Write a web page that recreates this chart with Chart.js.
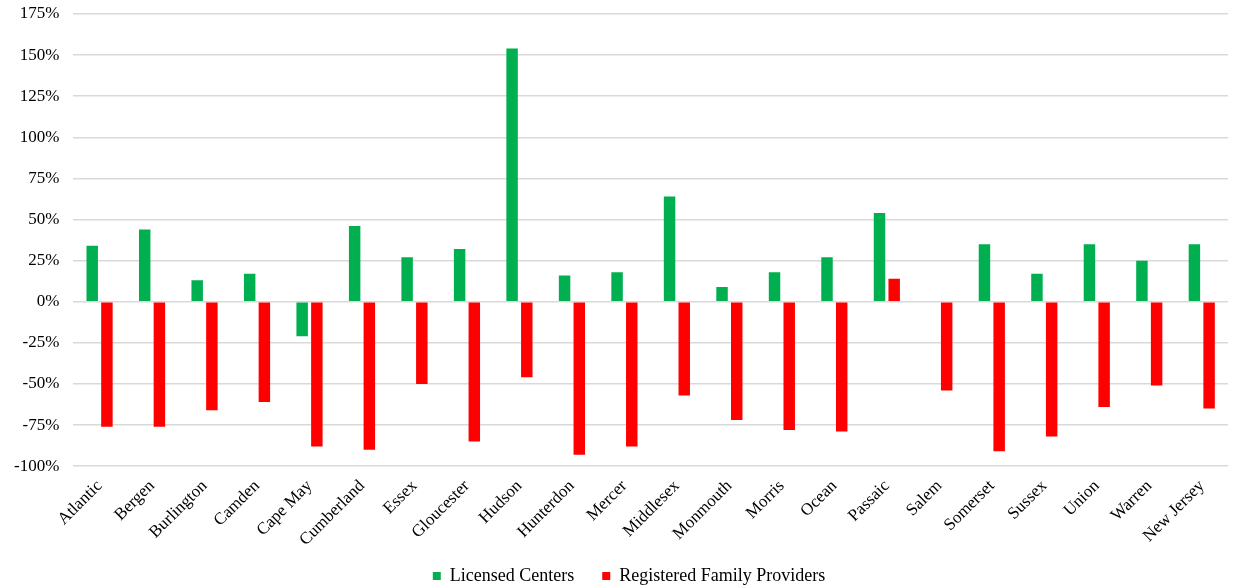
<!DOCTYPE html>
<html>
<head>
<meta charset="utf-8">
<script src="https://cdn.jsdelivr.net/npm/chart.js@4"></script>
<style>
  html, body { margin: 0; padding: 0; background: #fff; }
  #wrap { width: 1239px; height: 588px; }
</style>
</head>
<body>
<div id="wrap"><canvas id="chart" width="1239" height="588"></canvas></div>
<script>
const counties = ['Atlantic', 'Bergen', 'Burlington', 'Camden', 'Cape May', 'Cumberland', 'Essex',
    'Gloucester', 'Hudson', 'Hunterdon', 'Mercer', 'Middlesex', 'Monmouth', 'Morris', 'Ocean',
    'Passaic', 'Salem', 'Somerset', 'Sussex', 'Union', 'Warren', 'New Jersey'];
// percent change
const licensedCenters = [34, 44, 13, 17, -21, 46, 27, 32, 154, 16, 18, 64, 9, 18, 27, 54, 0, 35, 17, 35, 25, 35];
const familyProviders = [-76, -76, -66, -61, -88, -90, -50, -85, -46, -93, -88, -57, -72, -78, -79, 14, -54, -91, -82, -64, -51, -65];
const yTicks = [-100, -75, -50, -25, 0, 25, 50, 75, 100, 125, 150, 175];

const serif = "'Liberation Serif', 'Times New Roman', serif";

const whiteBg = {
    id: 'whiteBg',
    beforeDraw(chart) {
        const ctx = chart.ctx;
        ctx.save();
        ctx.fillStyle = '#fff';
        ctx.fillRect(0, 0, chart.width, chart.height);
        ctx.restore();
    }
};

// the legend sits a bit right of the canvas centre in the original
const nudgeLegend = {
    id: 'nudgeLegend',
    afterLayout(chart) {
        chart.legend.left += 15;
        chart.legend.right += 15;
    }
};

const ctx = document.getElementById('chart').getContext('2d');
new Chart(ctx, {
    type: 'bar',
    data: {
        labels: counties,
        datasets: [
            {
                label: 'Licensed Centers',
                data: licensedCenters,
                backgroundColor: '#00b050',
                categoryPercentage: 0.56,
                barPercentage: 0.78
            },
            {
                label: 'Registered Family Providers',
                data: familyProviders,
                backgroundColor: '#ff0000',
                categoryPercentage: 0.56,
                barPercentage: 0.78
            }
        ]
    },
    options: {
        responsive: false,
        animation: false,
        devicePixelRatio: 1,
        layout: { autoPadding: false, padding: { top: 14, right: 11, left: 0, bottom: -7 } },
        plugins: {
            legend: {
                position: 'bottom',
                labels: {
                    color: '#000',
                    font: { family: serif, size: 18 },
                    boxWidth: 8,
                    boxHeight: 8,
                    padding: 28
                }
            },
            tooltip: { enabled: false }
        },
        scales: {
            x: {
                grid: { display: false },
                border: { display: false },
                // rotated labels leave room below; pull the plot down towards the legend
                afterFit(axis) {
                    axis.height -= 13;
                    axis._computeLabelArea = () => undefined;
                },
                ticks: {
                    color: '#000',
                    font: { family: serif, size: 17 },
                    minRotation: 45,
                    maxRotation: 45,
                    autoSkip: false,
                    padding: 2
                }
            },
            y: {
                min: -100,
                max: 175,
                afterBuildTicks(axis) {
                    axis.ticks = yTicks.map(v => ({ value: v }));
                },
                // tick padding would otherwise push the top gridline down
                afterFit(axis) {
                    axis.paddingTop = 0;
                    axis.paddingBottom = 0;
                },
                grid: { color: '#d9d9d9', lineWidth: 1.5, drawTicks: false },
                border: { display: false },
                ticks: {
                    color: '#000',
                    font: { family: serif, size: 17 },
                    padding: 14,
                    callback: v => v + '%'
                }
            }
        }
    },
    plugins: [whiteBg, nudgeLegend]
});
</script>
</body>
</html>
